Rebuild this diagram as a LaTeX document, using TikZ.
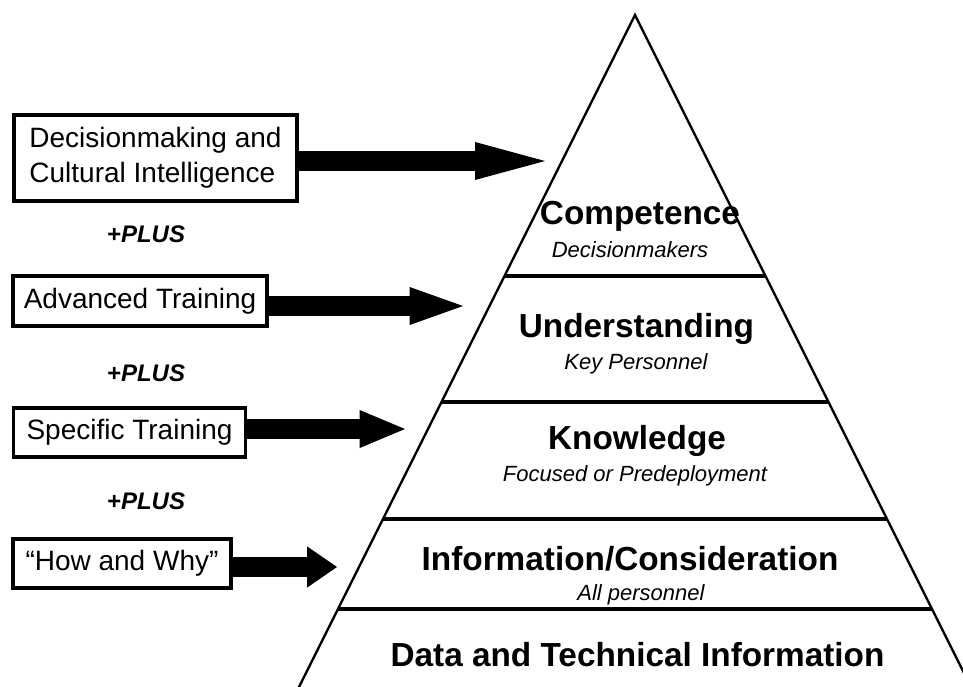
\documentclass[tikz,border=0pt]{standalone}
\usepackage{fontspec}
\setmainfont{Liberation Sans}
\usetikzlibrary{arrows.meta}

\begin{document}
\begin{tikzpicture}[x=0.75pt,y=0.75pt,yscale=-1,xscale=1,
    inputbox/.style={draw, line width=2.8pt, inner sep=0pt, align=left, font=\fontsize{21}{26}\selectfont},
    plustext/.style={inner sep=0.75pt, anchor=base, font=\fontsize{18}{22}\selectfont\bfseries\itshape},
    leveltext/.style={inner sep=0.75pt, anchor=base, font=\fontsize{25}{30}\selectfont\bfseries},
    subtext/.style={inner sep=0.75pt, anchor=base, font=\fontsize{16.5}{20}\selectfont\itshape},
    blockarrow/.style={line width=15pt}]
    %set diagram left start at 0, and has height of 686
\useasboundingbox (0,0) rectangle (963,686);
\clip (0,0) rectangle (963,686);

%Shape: Triangle [id:pyramid]
\draw [line width=1.7pt] (292.5,700) -- (635,15) -- (977.5,700) ;
%Straight Lines [id:divider1]
\draw [line width=3.4pt] (504.5,276) -- (765.5,276) ;
%Straight Lines [id:divider2]
\draw [line width=3.4pt] (441.5,402) -- (828.5,402) ;
%Straight Lines [id:divider3]
\draw [line width=3.4pt] (383,519) -- (887,519) ;
%Straight Lines [id:divider4]
\draw [line width=3.4pt] (338,609) -- (932,609) ;

% Text Node
\draw (155.5,158) node (box1) [inputbox, minimum width=212pt, minimum height=64.5pt] {Decisionmaking and\\Cultural Intelligence};
% Text Node
\draw (140,301) node (box2) [inputbox, minimum width=191pt, minimum height=37.5pt] {Advanced Training};
% Text Node
\draw (129.5,432.5) node (box3) [inputbox, minimum width=174pt, minimum height=37pt] {Specific Training};
% Text Node
\draw (122,563.5) node (box4) [inputbox, minimum width=163pt, minimum height=37pt] {“How and Why”};

% Text Node
\draw (146,242) node (plus1) [plustext] {+PLUS};
% Text Node
\draw (146,381) node (plus2) [plustext] {+PLUS};
% Text Node
\draw (146,509) node (plus3) [plustext] {+PLUS};

%Arrow tips
\coordinate (tip1) at (545,161) ;
\coordinate (tip2) at (463,306) ;
\coordinate (tip3) at (405,429) ;
\coordinate (tip4) at (337,567) ;
%Block arrows
\draw [blockarrow, -{Triangle[width=28.5pt,length=52.5pt,line width=0pt]}] (box1.east |- tip1) -- (tip1) ;
\draw [blockarrow, -{Triangle[width=28.5pt,length=40pt,line width=0pt]}] (box2.east |- tip2) -- (tip2) ;
\draw [blockarrow, -{Triangle[width=28.5pt,length=34pt,line width=0pt]}] (box3.east |- tip3) -- (tip3) ;
\draw [blockarrow, -{Triangle[width=31pt,length=22.5pt,line width=0pt]}] (box4.east |- tip4) -- (tip4) ;

% Text Node
\draw (640,224) node (competence) [leveltext] {Competence};
% Text Node
\draw (630,257) node (decisionmakers) [subtext] {Decisionmakers};
% Text Node
\draw (636.5,337) node (understanding) [leveltext] {Understanding};
% Text Node
\draw (636,369) node (keypersonnel) [subtext] {Key Personnel};
% Text Node
\draw (637,449) node (knowledge) [leveltext] {Knowledge};
% Text Node
\draw (635,481) node (focused) [subtext] {Focused or Predeployment};
% Text Node
\draw (630,570) node (information) [leveltext] {Information/Consideration};
% Text Node
\draw (641,600) node (allpersonnel) [subtext] {All personnel};
% Text Node
\draw (637.5,666) node (data) [leveltext] {Data and Technical Information};

\end{tikzpicture}
\end{document}
